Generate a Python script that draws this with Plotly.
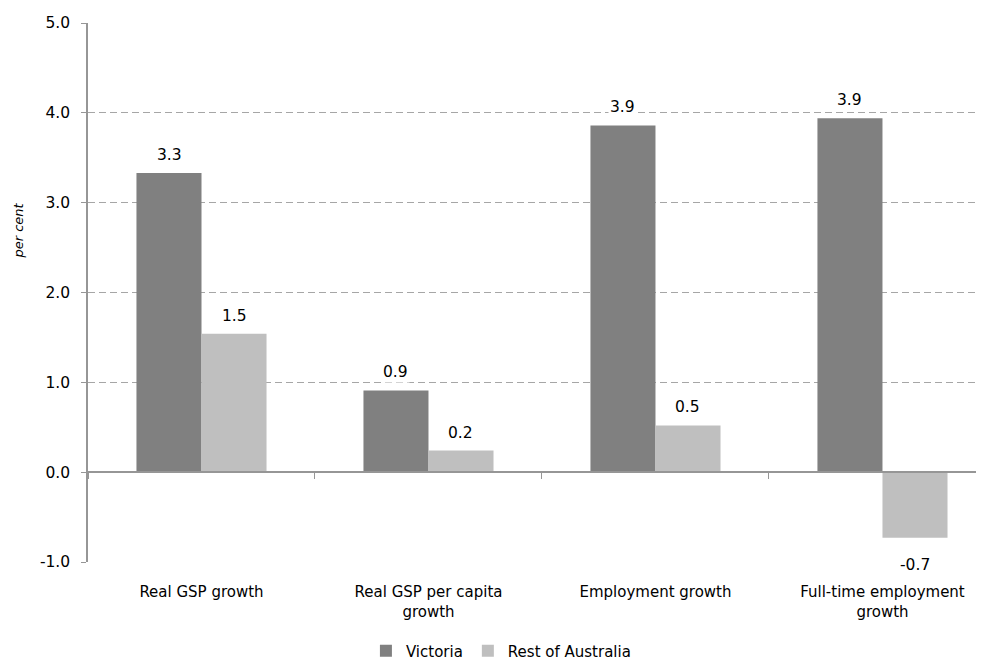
import plotly.graph_objects as go

categories = ["Real GSP growth", "Real GSP per capita<br>growth", "Employment growth", "Full-time employment<br>growth"]
victoria = [3.33, 0.91, 3.86, 3.94]
rest_of_australia = [1.54, 0.24, 0.52, -0.73]
series_names = ["Victoria", "Rest of Australia"]
y_ticks = [-1, 0, 1, 2, 3, 4, 5]
y_tick_labels = ["-1.0", "0.0", "1.0", "2.0", "3.0", "4.0", "5.0"]

FONT = "DejaVu Sans"
C_VIC = "#808080"
C_REST = "#BFBFBF"
GRID = "#A6A6A6"
AXIS = "#969696"
TXT = 15
NUM = 15.5

fig = go.Figure()
fig.add_trace(go.Bar(x=categories, y=victoria, name=series_names[0],
                     marker=dict(color=C_VIC, line=dict(width=0)), hoverinfo="skip"))
fig.add_trace(go.Bar(x=categories, y=rest_of_australia, name=series_names[1],
                     marker=dict(color=C_REST, line=dict(width=0)), hoverinfo="skip"))
# invisible trace carrying the bottom category-label axis
fig.add_trace(go.Scatter(x=categories, y=[0] * len(categories), xaxis="x2", yaxis="y",
                         mode="markers", marker=dict(opacity=0), showlegend=False,
                         hoverinfo="skip"))

annotations = []
for vals, shift in ((victoria, -32.5), (rest_of_australia, 32.5)):
    for c, v in zip(categories, vals):
        annotations.append(dict(x=c, y=v, xref="x", yref="y", text=f"{v:.1f}",
                                showarrow=False, xshift=shift,
                                yshift=7 if v >= 0 else -16,
                                yanchor="bottom" if v >= 0 else "top",
                                bgcolor="white", borderpad=1,
                                font=dict(family=FONT, size=NUM, color="#000000")))
annotations.append(dict(x=-0.0777, y=0.615, xref="paper", yref="paper", text="<i>per cent</i>",
                        showarrow=False, textangle=-90, xanchor="center", yanchor="middle",
                        font=dict(family=FONT, size=13, color="#000000")))

fig.update_layout(
    width=968, height=654,
    margin=dict(l=80, r=0, t=15, b=100, autoexpand=False),
    paper_bgcolor="white", plot_bgcolor="white",
    barmode="group", bargap=0.427, bargroupgap=0,
    font=dict(family=FONT, size=TXT, color="#000000"),
    showlegend=True,
    legend=dict(orientation="h", x=0.465, xanchor="center", y=-0.165, yanchor="middle",
                font=dict(family=FONT, size=TXT, color="#000000"), itemwidth=30,
                traceorder="normal"),
    annotations=annotations,
    xaxis=dict(type="category", range=[-0.5, 3.412], anchor="free", position=1 / 6,
               showline=True, linecolor=AXIS, linewidth=1.5,
               ticks="outside", tickson="boundaries", ticklen=6, tickcolor=AXIS,
               showticklabels=False, showgrid=False, zeroline=False),
    xaxis2=dict(type="category", overlaying="x", matches="x", side="bottom", anchor="y",
                showline=False, ticks="", showgrid=False, zeroline=False,
                showticklabels=True, ticklabelstandoff=19,
                tickfont=dict(family=FONT, size=TXT, color="#000000")),
    yaxis=dict(range=[-1, 5], tickvals=y_ticks, ticktext=y_tick_labels,
               showline=True, linecolor=AXIS, linewidth=1.5,
               ticks="outside", ticklen=5, tickcolor=AXIS,
               showgrid=True, gridcolor=GRID, griddash="7px,4px", gridwidth=1,
               zeroline=False, ticklabelstandoff=8,
               tickfont=dict(family=FONT, size=NUM, color="#000000")),
)

fig.write_html("out.html")
